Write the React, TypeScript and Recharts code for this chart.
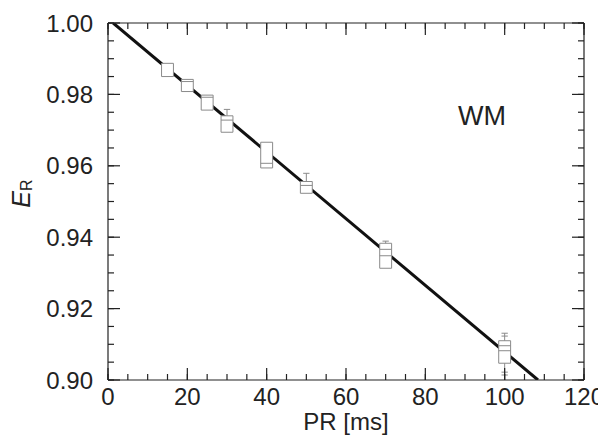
import React from 'react';
import { LineChart, Line, XAxis, YAxis, ReferenceArea, ReferenceLine, Customized } from 'recharts';

// fitted regression line (endpoints)
const fitX = [1.3, 108.4];
const fitY = [1.0, 0.9];

// box plot groups
const groupX = [15, 20, 25, 30, 40, 50, 70, 100];
const boxLow = [0.985, 0.9808, 0.9756, 0.9694, 0.9594, 0.9523, 0.9313, 0.9047];
const boxHigh = [0.9887, 0.9842, 0.9798, 0.974, 0.9666, 0.9556, 0.9383, 0.911];
const medianA: (number | null)[] = [null, 0.9836, 0.9792, 0.9728, 0.9607, 0.9545, 0.9366, 0.9096];
const medianB: (number | null)[] = [null, null, null, null, null, null, 0.9348, 0.9082];
const whiskerHigh: (number | null)[] = [null, null, null, 0.9758, null, 0.9579, 0.9389, 0.9131];
const whiskerHigh2: (number | null)[] = [null, null, null, null, null, null, null, 0.9123];
const whiskerLow: (number | null)[] = [null, null, null, null, null, null, null, 0.9022];
const whiskerLow2: (number | null)[] = [null, null, null, null, null, null, null, 0.9014];

const xMajor = [0, 20, 40, 60, 80, 100, 120];
const xMinor = [0, 5, 10, 15, 20, 25, 30, 35, 40, 45, 50, 55, 60, 65, 70, 75, 80, 85, 90, 95, 100, 105, 110, 115, 120];
const yMajor = [0.9, 0.92, 0.94, 0.96, 0.98, 1.0];
const yMinor = [0.9, 0.905, 0.91, 0.915, 0.92, 0.925, 0.93, 0.935, 0.94, 0.945, 0.95, 0.955, 0.96, 0.965, 0.97, 0.975, 0.98, 0.985, 0.99, 0.995, 1.0];

const fitData = fitX.map((x, i) => ({ x, y: fitY[i] }));

const FONT = '"Liberation Sans", Arial, Helvetica, sans-serif';
const AX = '#222';
const BOX = '#8a8a8a';
const HALF = 1.5;
const CAP = 0.8;
const TINY = 0.001;

const tickStyle = { fill: '#222', fontSize: 24, fontFamily: FONT };
const noLabel = () => '';
const lineStyle = { stroke: AX, strokeWidth: 1.2 };

const YLabel = (props: any) => {
  const vb = props.viewBox || { x: 0, y: 0, width: 0, height: 0 };
  const cx = 22;
  const cy = vb.y + vb.height / 2 - 8;
  return (
    <text x={cx} y={cy} transform={`rotate(-90, ${cx}, ${cy})`} textAnchor="middle" fill="#222" fontFamily={FONT}>
      <tspan fontStyle="italic" fontSize={25}>E</tspan>
      <tspan fontSize={16} dy={2}>R</tspan>
    </text>
  );
};

const XLabel = (props: any) => {
  const vb = props.viewBox || { x: 0, y: 0, width: 0, height: 0 };
  return (
    <text x={vb.x + vb.width / 2} y={422} textAnchor="middle" fill="#222" fontSize={24} fontFamily={FONT}>
      PR [ms]
    </text>
  );
};

export default function App() {
  const boxes: any[] = [];
  groupX.forEach((gx, i) => {
    const seg = (key: string, x1: number, y1: number, x2: number, y2: number) =>
      boxes.push(
        <ReferenceLine
          key={key}
          xAxisId="x"
          yAxisId="y"
          segment={[{ x: x1, y: y1 }, { x: x2, y: y2 }]}
          stroke={BOX}
          strokeWidth={1}
          ifOverflow="visible"
          zIndex={460}
        />
      );
    const wh = whiskerHigh[i];
    if (wh != null) {
      seg(`wh${i}`, gx, boxHigh[i], gx, wh);
      seg(`whc${i}`, gx - CAP, wh, gx + CAP, wh);
    }
    const wh2 = whiskerHigh2[i];
    if (wh2 != null) seg(`wh2c${i}`, gx - CAP, wh2, gx + CAP, wh2);
    const wl = whiskerLow[i];
    if (wl != null) {
      seg(`wl${i}`, gx, boxLow[i], gx, wl);
      seg(`wlc${i}`, gx - CAP, wl, gx + CAP, wl);
    }
    const wl2 = whiskerLow2[i];
    if (wl2 != null && wl != null) {
      seg(`wl2${i}`, gx, wl, gx, wl2);
      seg(`wl2c${i}`, gx - CAP, wl2, gx + CAP, wl2);
    }
    boxes.push(
      <ReferenceArea
        key={`box${i}`}
        xAxisId="x"
        yAxisId="y"
        x1={gx - HALF}
        x2={gx + HALF}
        y1={boxLow[i]}
        y2={boxHigh[i]}
        fill="#ffffff"
        fillOpacity={1}
        stroke={BOX}
        strokeWidth={1}
        ifOverflow="visible"
        zIndex={450}
      />
    );
    const ma = medianA[i];
    if (ma != null) seg(`ma${i}`, gx - HALF, ma, gx + HALF, ma);
    const mb = medianB[i];
    if (mb != null) seg(`mb${i}`, gx - HALF, mb, gx + HALF, mb);
  });

  return (
    <div style={{ width: 598, height: 434, fontFamily: FONT }}>
      <LineChart width={598} height={434} data={fitData} margin={{ top: 15, right: 22, bottom: 8, left: 0 }} style={{ overflow: 'visible' }}>
        {/* inward tick axes (mirrored, take no space) */}
        <XAxis xAxisId="bM" type="number" dataKey="x" domain={[0, 120]} ticks={xMajor} mirror orientation="bottom" height={TINY} tickSize={12} tickFormatter={noLabel} tickLine={lineStyle} axisLine={false} allowDataOverflow />
        <XAxis xAxisId="bm" type="number" dataKey="x" domain={[0, 120]} ticks={xMinor} mirror orientation="bottom" height={TINY} tickSize={6} tickFormatter={noLabel} tickLine={lineStyle} axisLine={false} allowDataOverflow />
        <XAxis xAxisId="tM" type="number" dataKey="x" domain={[0, 120]} ticks={xMajor} mirror orientation="top" height={TINY} tickSize={12} tickFormatter={noLabel} tickLine={lineStyle} axisLine={lineStyle} allowDataOverflow />
        <XAxis xAxisId="tm" type="number" dataKey="x" domain={[0, 120]} ticks={xMinor} mirror orientation="top" height={TINY} tickSize={6} tickFormatter={noLabel} tickLine={lineStyle} axisLine={false} allowDataOverflow />
        <YAxis yAxisId="lM" type="number" domain={[0.9, 1.0]} ticks={yMajor} mirror orientation="left" width={TINY} tickSize={12} tickFormatter={noLabel} tickLine={lineStyle} axisLine={false} allowDataOverflow />
        <YAxis yAxisId="lm" type="number" domain={[0.9, 1.0]} ticks={yMinor} mirror orientation="left" width={TINY} tickSize={6} tickFormatter={noLabel} tickLine={lineStyle} axisLine={false} allowDataOverflow />
        <YAxis yAxisId="rM" type="number" domain={[0.9, 1.0]} ticks={yMajor} mirror orientation="right" width={TINY} tickSize={12} tickFormatter={noLabel} tickLine={lineStyle} axisLine={lineStyle} allowDataOverflow />
        <YAxis yAxisId="rm" type="number" domain={[0.9, 1.0]} ticks={yMinor} mirror orientation="right" width={TINY} tickSize={6} tickFormatter={noLabel} tickLine={lineStyle} axisLine={false} allowDataOverflow />
        {/* label axes */}
        <XAxis xAxisId="x" type="number" dataKey="x" domain={[0, 120]} ticks={xMajor} orientation="bottom" height={54} tickSize={0} tickMargin={8} tickLine={false} tick={tickStyle} axisLine={lineStyle} label={{ content: XLabel }} allowDataOverflow />
        <YAxis yAxisId="y" type="number" domain={[0.9, 1.0]} ticks={yMajor} orientation="left" width={100} tickSize={0} tickMargin={15} tickLine={false} tick={tickStyle} tickFormatter={(v: number) => v.toFixed(2)} axisLine={lineStyle} label={{ content: YLabel }} allowDataOverflow />
        <Line xAxisId="x" yAxisId="y" type="linear" dataKey="y" stroke="#111" strokeWidth={3} dot={false} activeDot={false} isAnimationActive={false} zIndex={300} />
        {boxes}
        <Customized
          component={() => (
            <text x={450} y={117} fill="#222" fontSize={27} fontFamily={FONT}>
              WM
            </text>
          )}
        />
      </LineChart>
    </div>
  );
}
